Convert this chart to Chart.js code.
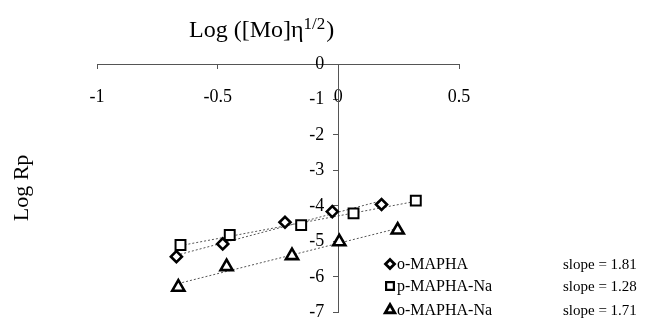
<!DOCTYPE html>
<html>
<head>
<meta charset="UTF-8">
<title>Log Rp</title>
<script src="https://cdn.jsdelivr.net/npm/chart.js"></script>
<style>
    body { margin: 0; background: #fff; }
</style>
</head>
<body>
<canvas id="grafico" width="645" height="322"></canvas>
<script>
// Log Rp contra Log([Mo]η^1/2), tres series com reta de ajuste
const series = ['o-MAPHA', 'p-MAPHA-Na', 'o-MAPHA-Na'];
const slopes = [1.81, 1.28, 1.71];
const xMAPHA = [-0.671, -0.479, -0.221, -0.025, 0.179];
const yMAPHA = [-5.43, -5.07, -4.46, -4.16, -3.96];
const xPNa = [-0.654, -0.450, -0.154, 0.063, 0.321];
const yPNa = [-5.10, -4.82, -4.54, -4.21, -3.85];
const xONa = [-0.663, -0.463, -0.192, 0.004, 0.246];
const yONa = [-6.29, -5.71, -5.40, -5.01, -4.68];
const xTicks = [-1, -0.5, 0, 0.5];
const yTicks = [0, -1, -2, -3, -4, -5, -6, -7];

const serif = "'Liberation Serif', 'Times New Roman', serif";
const estilos = [
    { pointStyle: 'rectRot', radius: 5.5, borderWidth: 2.6 },
    { pointStyle: 'rect', radius: 7, borderWidth: 2 },
    { pointStyle: 'triangle', radius: 7, borderWidth: 2.6 }
];

function pontos(xs, ys) {
    return xs.map((x, i) => ({ x: x, y: ys[i] }));
}

// reta com a inclinacao indicada passando pela media dos pontos
function reta(xs, ys, m) {
    const mx = xs.reduce((a, b) => a + b, 0) / xs.length;
    const my = ys.reduce((a, b) => a + b, 0) / ys.length;
    const x0 = Math.min(...xs), x1 = Math.max(...xs);
    return [{ x: x0, y: my + m * (x0 - mx) }, { x: x1, y: my + m * (x1 - mx) }];
}

const dadosX = [xMAPHA, xPNa, xONa];
const dadosY = [yMAPHA, yPNa, yONa];
const datasets = [];
for (let i = 0; i < 3; i++) {
    datasets.push({
        label: series[i],
        data: pontos(dadosX[i], dadosY[i]),
        order: 1,
        pointStyle: estilos[i].pointStyle,
        pointRadius: estilos[i].radius,
        pointBorderWidth: estilos[i].borderWidth,
        pointBorderColor: '#000',
        pointBackgroundColor: '#fff',
        showLine: false
    });
    datasets.push({
        label: series[i] + ' ajuste',
        data: reta(dadosX[i], dadosY[i], slopes[i]),
        order: 2,
        showLine: true,
        pointRadius: 0,
        borderColor: '#555',
        borderWidth: 1,
        borderDash: [2, 2]
    });
}

// eixo y no meio: o Chart.js nao afasta os rotulos da linha, entao empurra pra esquerda
const afastaRotulosY = {
    id: 'afastaRotulosY',
    beforeDraw(chart) {
        const itens = chart.scales.y.getLabelItems(chart.chartArea);
        itens.forEach(it => { it.options.translation[0] -= 14; });
    }
};

// textos dos eixos e legenda com as inclinacoes
const textos = {
    id: 'textos',
    afterDraw(chart) {
        const ctx = chart.ctx;
        ctx.save();
        ctx.fillStyle = '#000';
        ctx.textBaseline = 'alphabetic';
        ctx.textAlign = 'left';

        ctx.font = '24px ' + serif;
        let x = 189;
        const t1 = 'Log ([Mo]η';
        ctx.fillText(t1, x, 37);
        x += ctx.measureText(t1).width;
        ctx.font = '17px ' + serif;
        ctx.fillText('1/2', x, 29);
        x += ctx.measureText('1/2').width + 1;
        ctx.font = '24px ' + serif;
        ctx.fillText(')', x, 37);

        ctx.save();
        ctx.translate(28, 188);
        ctx.rotate(-Math.PI / 2);
        ctx.textAlign = 'center';
        ctx.font = '22px ' + serif;
        ctx.fillText('Log Rp', 0, 0);
        ctx.restore();

        const linhasY = [264, 286, 310];
        const legenda = [
            { pointStyle: 'rectRot', radius: 4.5, borderWidth: 2.8 },
            { pointStyle: 'rect', radius: 5.5, borderWidth: 2.2 },
            { pointStyle: 'triangle', radius: 5.5, borderWidth: 2.8 }
        ];
        for (let i = 0; i < series.length; i++) {
            const y = linhasY[i];
            ctx.strokeStyle = '#000';
            ctx.fillStyle = '#fff';
            ctx.lineWidth = legenda[i].borderWidth;
            Chart.helpers.drawPoint(ctx, { pointStyle: legenda[i].pointStyle, radius: legenda[i].radius, borderWidth: legenda[i].borderWidth, rotation: 0 }, 390, y);
            ctx.fillStyle = '#000';
            ctx.font = '16px ' + serif;
            ctx.textBaseline = 'middle';
            ctx.fillText(series[i], 397, y + 1);
            ctx.font = '15px ' + serif;
            ctx.fillText('slope = ' + slopes[i].toFixed(2), 563, y + 1);
        }
        ctx.restore();
    }
};

const ctx = document.getElementById('grafico').getContext('2d');
const grafico = new Chart(ctx, {
    type: 'scatter',
    data: { datasets: datasets },
    options: {
        responsive: false,
        animation: false,
        layout: { padding: { left: 97, right: 186, top: 64, bottom: 6 } },
        plugins: { legend: { display: false }, tooltip: { enabled: false } },
        scales: {
            x: {
                type: 'linear',
                min: -1,
                max: 0.5,
                position: { y: 0 },
                afterBuildTicks: s => { s.ticks = xTicks.map(v => ({ value: v })); },
                afterFit: s => { s.height = 0; s.paddingLeft = 0; s.paddingRight = 0; s.paddingTop = 0; s.paddingBottom = 0; },
                grid: { drawOnChartArea: false, tickLength: 4, color: '#555' },
                border: { color: '#555', width: 1 },
                ticks: { color: '#000', font: { family: serif, size: 18 }, padding: 18, maxRotation: 0, callback: v => String(v) }
            },
            y: {
                type: 'linear',
                min: -7,
                max: 0,
                position: { x: 0 },
                afterBuildTicks: s => { s.ticks = yTicks.map(v => ({ value: v })); },
                afterFit: s => { s.width = 0; s.paddingLeft = 0; s.paddingRight = 0; s.paddingTop = 0; s.paddingBottom = 0; },
                grid: { drawOnChartArea: false, tickLength: 5, color: '#555' },
                border: { color: '#555', width: 1 },
                ticks: { color: '#000', font: { family: serif, size: 18 }, padding: 10, callback: v => String(v) }
            }
        }
    },
    plugins: [afastaRotulosY, textos]
});
</script>
</body>
</html>
